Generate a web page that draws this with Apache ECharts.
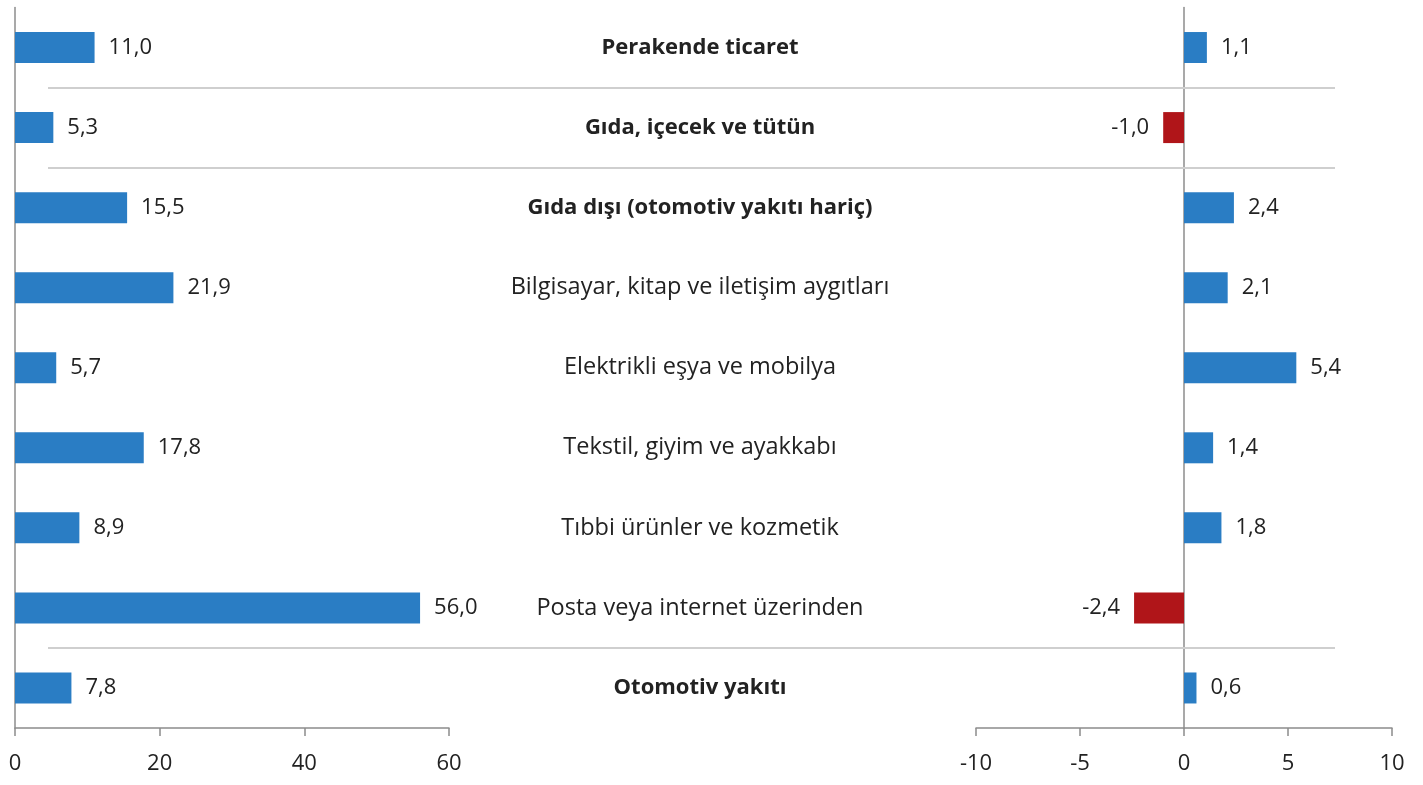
<!DOCTYPE html>
<html>
<head>
<meta charset="utf-8">
<script src="https://cdn.jsdelivr.net/npm/echarts@6/dist/echarts.min.js"></script>
<style>
  html, body { margin: 0; padding: 0; background: #fff; }
  #chart { width: 1423px; height: 785px; }
</style>
</head>
<body>
<div id="chart"></div>
<script>
// kategoriler (yukaridan asagi)
const categories = [
  'Perakende ticaret',
  'Gıda, içecek ve tütün',
  'Gıda dışı (otomotiv yakıtı hariç)',
  'Bilgisayar, kitap ve iletişim aygıtları',
  'Elektrikli eşya ve mobilya',
  'Tekstil, giyim ve ayakkabı',
  'Tıbbi ürünler ve kozmetik',
  'Posta veya internet üzerinden',
  'Otomotiv yakıtı'
];
const boldRows = [0, 1, 2, 8];
const leftValues = [11.0, 5.3, 15.5, 21.9, 5.7, 17.8, 8.9, 56.0, 7.8];
const rightValues = [1.1, -1.0, 2.4, 2.1, 5.4, 1.4, 1.8, -2.4, 0.6];
// ayirici cizgiler: satir sinirlari
const separators = [1, 2, 8];

const BLUE = '#2a7dc4';
const RED = '#b01519';
const TEXT = '#222';
const AXIS = '#8c8c8c';
const FONT = 'Open Sans';

const fmt = v => v.toFixed(1).replace('.', ',');

const chart = echarts.init(document.getElementById('chart'));

const valueLabel = {
  show: true,
  distance: 14,
  color: TEXT,
  fontFamily: FONT,
  fontSize: 22,
  formatter: p => fmt(p.value)
};

chart.setOption({
  backgroundColor: '#ffffff',
  animation: false,
  grid: [
    { left: 15, width: 434, top: 7.5, bottom: 57 },
    { left: 976, width: 416, top: 7.5, bottom: 57 },
    { left: 48, right: 88, top: 7.5, bottom: 57 },
    { left: 700, width: 1, top: 7.5, bottom: 57 }
  ],
  xAxis: [
    {
      gridIndex: 0, type: 'value', min: 0, max: 60, interval: 20,
      splitLine: { show: false },
      axisLine: { show: true, lineStyle: { color: AXIS, width: 1.5 } },
      axisTick: { show: true, length: 8, lineStyle: { color: AXIS, width: 1.5 } },
      axisLabel: { color: TEXT, fontFamily: FONT, fontSize: 22, margin: 25 }
    },
    {
      gridIndex: 1, type: 'value', min: -10, max: 10, interval: 5,
      splitLine: { show: false },
      axisLine: { show: true, onZero: false, lineStyle: { color: AXIS, width: 1.5 } },
      axisTick: { show: true, length: 8, lineStyle: { color: AXIS, width: 1.5 } },
      axisLabel: { color: TEXT, fontFamily: FONT, fontSize: 22, margin: 25 }
    },
    { gridIndex: 2, type: 'value', min: 0, max: 1, show: false },
    { gridIndex: 3, type: 'value', min: 0, max: 1, show: false }
  ],
  yAxis: [
    {
      gridIndex: 0, type: 'category', data: categories, inverse: true,
      axisLine: { show: true, lineStyle: { color: AXIS, width: 1.5 } },
      axisTick: { show: false },
      axisLabel: { show: false }
    },
    {
      gridIndex: 1, type: 'category', data: categories, inverse: true,
      axisLine: { show: true, onZero: true, lineStyle: { color: AXIS, width: 1.5 } },
      axisTick: { show: false },
      axisLabel: { show: false }
    },
    {
      gridIndex: 2, type: 'value', min: 0, max: categories.length, inverse: true,
      show: false
    },
    {
      gridIndex: 3, type: 'category', inverse: true,
      data: categories.map((c, i) => {
        const bold = boldRows.includes(i);
        return {
          value: c,
          textStyle: {
            align: 'center',
            fontWeight: bold ? 'bold' : 'normal',
            fontSize: bold ? 22 : 23.5
          }
        };
      }),
      axisLine: { show: false },
      axisTick: { show: false },
      axisLabel: {
        margin: 0, align: 'center', color: TEXT,
        fontFamily: FONT, fontSize: 23
      }
    }
  ],
  series: [
    {
      type: 'bar', xAxisIndex: 0, yAxisIndex: 0,
      data: leftValues, barWidth: 31,
      itemStyle: { color: BLUE },
      label: Object.assign({ position: 'right' }, valueLabel)
    },
    {
      type: 'bar', xAxisIndex: 1, yAxisIndex: 1,
      data: rightValues.map(v => ({
        value: v,
        itemStyle: { color: v < 0 ? RED : BLUE },
        label: { position: v < 0 ? 'left' : 'right' }
      })),
      barWidth: 31,
      label: valueLabel
    },
    {
      type: 'line', xAxisIndex: 2, yAxisIndex: 2, data: [],
      markLine: {
        silent: true, symbol: 'none',
        label: { show: false },
        lineStyle: { color: '#cfcfcf', width: 2, type: 'solid' },
        data: separators.map(s => ({ yAxis: s }))
      }
    }
  ]
});
</script>
</body>
</html>
